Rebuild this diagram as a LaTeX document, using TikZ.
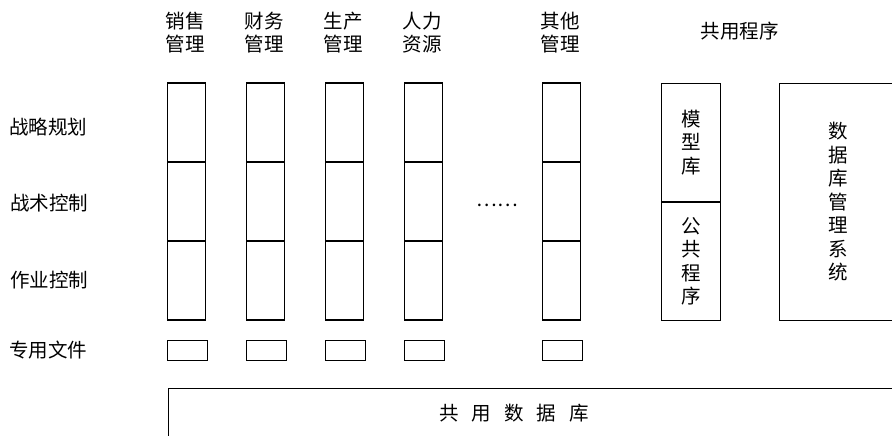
\documentclass[tikz,border=0pt]{standalone}
\usepackage{fontspec}
\setmainfont{Noto Sans CJK SC}
\begin{document}
\begin{tikzpicture}[x=1pt,y=-1pt,
  cell/.style={draw, line width=1.1pt, minimum width=38pt, minimum height=79pt, inner sep=0pt},
  filebox/.style={draw, line width=1.1pt, minimum width=40pt, minimum height=20pt, inner sep=0pt},
  lbl/.style={font=\fontsize{19.5}{23}\selectfont, inner sep=0pt, align=center},
  bigbox/.style={draw, line width=1.1pt, inner sep=0pt, align=center, font=\fontsize{19.5}{23.5}\selectfont}]
\useasboundingbox (0,0) rectangle (892,436);

% functional columns
\foreach \n/\x/\t in {a/186.5/{销售\\管理}, b/265.8/{财务\\管理}, c/344.5/{生产\\管理}, d/423.5/{人力\\资源}, e/561.8/{其他\\管理}} {
  \node[cell] (\n1) at (\x,122.5) {};
  \node[cell] (\n2) at (\x,201.5) {};
  \node[cell] (\n3) at (\x,280.5) {};
  \node[filebox] (\n f) at (\x+1,350.3) {};
  \node[lbl] (\n h) at (\x-1.5,32.5) {\t};
}

% row labels
\node[lbl, anchor=west] (r1) at (9,127) {战略规划};
\node[lbl, anchor=west] (r2) at (10,203) {战术控制};
\node[lbl, anchor=west] (r3) at (10,280) {作业控制};
\node[lbl, anchor=west] (r4) at (9,350) {专用文件};

% ellipsis
\node[lbl] (dots) at (497,205) {……};

% common programs
\node[lbl] (cph) at (739.5,31) {共用程序};
\node[bigbox, minimum width=59.7pt, minimum height=118.7pt] (model) at (691,142.6) {模\\型\\库};
\node[bigbox, minimum width=59.7pt, minimum height=118.7pt] (pub) at (691,261.4) {公\\共\\程\\序};
\node[bigbox, minimum width=117.4pt, minimum height=237.4pt] (dbms) at (838,202) {数\\据\\库\\管\\理\\系\\统};

% common database
\node[draw, line width=1.1pt, inner sep=0pt, minimum width=740pt, minimum height=60pt, anchor=north west] (db) at (168,387.7) {};
\node[lbl] (dbt) at (514,413) {共\hspace{13pt}用\hspace{13pt}数\hspace{13pt}据\hspace{13pt}库};
\end{tikzpicture}
\end{document}
